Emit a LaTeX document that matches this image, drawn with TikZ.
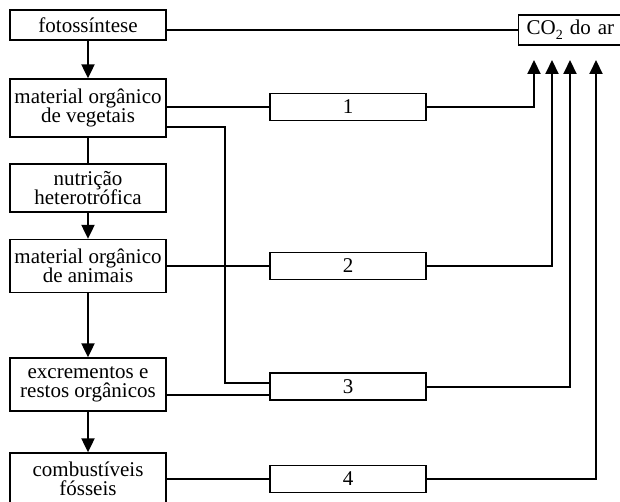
\documentclass[tikz,border=0pt]{standalone}
\usepackage{fontspec}
\setmainfont{Liberation Serif}
\usetikzlibrary{arrows.meta}
\begin{document}
\begin{tikzpicture}[x=1pt,y=-1pt,
  box/.style={draw, line width=1.3pt, inner sep=0pt, align=center,
    font=\fontsize{21}{19.5}\selectfont},
  lbox/.style={box, minimum width=156pt},
  nbox/.style={box, minimum width=156pt, minimum height=27pt},
  conn/.style={line width=2pt},
  arr/.style={conn, -{Triangle[width=13pt,length=14pt]}}]
\useasboundingbox (0,0) rectangle (620,502);
\clip (0,0) rectangle (620,502);
% left column
\node[lbox, minimum height=30pt] (foto) at (88,25) {fotossíntese};
\node[lbox, minimum height=58pt] (veg) at (88,108) {material orgânico\\de vegetais};
\node[lbox, minimum height=48pt] (nut) at (88,188) {nutrição\\heterotrófica};
\node[lbox, minimum height=53pt] (anim) at (88,266) {material orgânico\\de animais};
\node[lbox, minimum height=53pt] (exc) at (88,384.5) {excrementos e\\restos orgânicos};
\node[lbox, minimum height=52pt] (comb) at (88,479) {combustíveis\\fósseis};
% middle column
\node[nbox] (b1) at (348,107) {1};
\node[nbox] (b2) at (348,266) {2};
\node[nbox] (b3) at (348,386.5) {3};
\node[nbox] (b4) at (348,479) {4};
% CO2
\node[box, anchor=west, minimum height=30pt, text width=104pt, inner xsep=8pt, align=left] (co2) at (518,30) {CO\raisebox{-5pt}{\fontsize{14}{14}\selectfont 2} do ar};
% coordinates
\coordinate (vx) at (225,383);
\coordinate (t1) at (534,60);
\coordinate (t2) at (552,60);
\coordinate (t3) at (570,60);
\coordinate (t4) at (596,60);
\coordinate (v2) at ([yshift=-19pt]veg.east);
\coordinate (e2) at ([yshift=-10.5pt]exc.east);
% vertical flow
\draw[arr] (foto) -- (veg);
\draw[conn] (veg) -- (nut);
\draw[arr] (nut) -- (anim);
\draw[arr] (anim) -- (exc);
\draw[arr] (exc) -- (comb);
% horizontals
\draw[conn] (foto.east |- co2.west) -- (co2.west);
\draw[conn] (veg.east |- b1.west) -- (b1.west);
\draw[conn] (v2) -| (vx) -- (vx -| b3.west);
\draw[conn] (anim.east) -- (anim.east -| b2.west);
\draw[conn] (e2) -- (e2 -| b3.west);
\draw[conn] (comb.east) -- (comb.east -| b4.west);
% to CO2
\draw[arr] (b1.east) -| (t1);
\draw[arr] (b2.east) -| (t2);
\draw[arr] (b3.east) -| (t3);
\draw[arr] (b4.east) -| (t4);
\end{tikzpicture}
\end{document}
